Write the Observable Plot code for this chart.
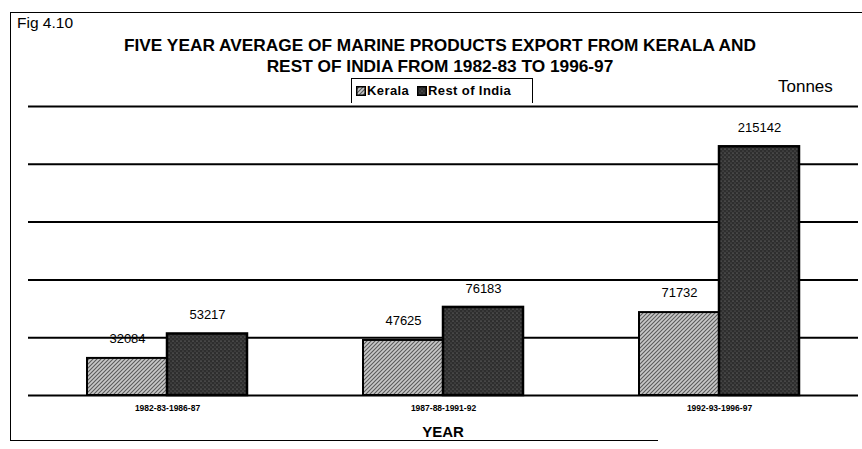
<!DOCTYPE html>
<html>
<head>
<meta charset="utf-8">
<script src="https://cdn.jsdelivr.net/npm/d3@7"></script>
<script src="https://cdn.jsdelivr.net/npm/@observablehq/plot@0.6"></script>
<style>
  body { margin: 0; background: #fff; font-family: "Liberation Sans", Arial, sans-serif; }
  #wrap { position: relative; width: 862px; height: 449px; overflow: hidden; background: #fff; }
  #chart { position: absolute; left: 0; top: 0; }
  .abs { position: absolute; white-space: nowrap; color: #000; }
  #frame { position: absolute; left: 10px; top: 12px; width: 852px; height: 428px;
           border-left: 1.5px solid #000; border-top: 1.5px solid #000; }
  #frameBottom { position: absolute; left: 10px; top: 440px; width: 648px; border-top: 1.5px solid #000; }
  .title { font-weight: bold; font-size: 17.3px; left: 0; width: 880px; text-align: center; letter-spacing: 0px; }
  #legend { position: absolute; left: 351px; top: 78px; width: 180px; height: 24px; border: 1.3px solid #000;
            border-bottom: none; background: #fff; font-weight: bold; font-size: 13px; letter-spacing: 0.4px; }
  .sw { position: absolute; top: 7px; }
</style>
</head>
<body>
<svg width="0" height="0" style="position:absolute">
  <defs>
    <pattern id="patKerala" patternUnits="userSpaceOnUse" width="4" height="4">
      <rect width="4" height="4" fill="#c8c8c8"/>
      <path d="M-1,1 l2,-2 M0,4 l4,-4 M3,5 l2,-2" stroke="#5a5a5a" stroke-width="1.1"/>
    </pattern>
    <pattern id="patRest" patternUnits="userSpaceOnUse" width="4" height="4">
      <rect width="4" height="4" fill="#2e2e2e"/>
      <circle cx="1" cy="1" r="0.6" fill="#8a8a8a"/>
      <circle cx="3" cy="3" r="0.6" fill="#6a6a6a"/>
    </pattern>
  </defs>
</svg>
<div id="wrap">
  <div id="chart"></div>
  <div id="frame"></div>
  <div id="frameBottom"></div>
  <div class="abs" style="left:17px; top:14px; font-size:15.5px;">Fig 4.10</div>
  <div class="abs title" style="top:35px;">FIVE YEAR AVERAGE OF MARINE PRODUCTS EXPORT FROM KERALA AND</div>
  <div class="abs title" style="top:56px;">REST OF INDIA FROM 1982-83 TO 1996-97</div>
  <div class="abs" style="left:778px; top:77px; font-size:17px;">Tonnes</div>
  <div id="legend"></div>
  <div class="abs" style="left:0; width:886px; text-align:center; top:423px; font-size:15px; font-weight:bold;">YEAR</div>
</div>
<script>
const categories = ["1982-83-1986-87", "1987-88-1991-92", "1992-93-1996-97"];
const seriesNames = ["Kerala", "Rest of India"];
const kerala = [32084, 47625, 71732];
const restOfIndia = [53217, 76183, 215142];
const gridValues = [0, 50000, 100000, 150000, 200000, 250000];
const patterns = ["url(#patKerala)", "url(#patRest)"];

const data = categories.flatMap((c, i) => [
  {period: c, series: seriesNames[0], value: kerala[i]},
  {period: c, series: seriesNames[1], value: restOfIndia[i]}
]);
const kData = data.filter(d => d.series === seriesNames[0]);
const rData = data.filter(d => d.series === seriesNames[1]);

const chart = Plot.plot({
  width: 862,
  height: 449,
  marginLeft: 28,
  marginRight: 4,
  marginTop: 106,
  marginBottom: 54,
  style: {fontFamily: "'Liberation Sans', Arial, sans-serif", fontSize: "8.5px", fontWeight: "bold", background: "transparent"},
  x: {domain: categories, paddingInner: 0.711, paddingOuter: 0.3555, tickSize: 0, tickPadding: 9, label: null},
  y: {domain: [0, 250000], axis: null},
  color: {domain: seriesNames, range: patterns},
  marks: [
    Plot.ruleY(gridValues, {stroke: "#000", strokeWidth: 2}),
    Plot.barY(kData, {x: "period", y: "value", fill: "series", dx: -40, stroke: "#000", strokeWidth: 2}),
    Plot.barY(rData, {x: "period", y: "value", fill: "series", dx: 40, stroke: "#000", strokeWidth: 2.5}),
    Plot.text(kData, {x: "period", y: "value", text: d => String(d.value), dx: -40, dy: -20, fontSize: 13, fontWeight: "normal", fill: "#000"}),
    Plot.text(rData, {x: "period", y: "value", text: d => String(d.value), dx: 40, dy: -19, fontSize: 13, fontWeight: "normal", fill: "#000"})
  ]
});
document.getElementById("chart").appendChild(chart);

// legend
const legend = document.getElementById("legend");
const items = [
  {name: seriesNames[0], swLeft: 4, textLeft: 15},
  {name: seriesNames[1], swLeft: 65, textLeft: 76}
];
items.forEach((it, i) => {
  const ns = "http://www.w3.org/2000/svg";
  const sw = document.createElementNS(ns, "svg");
  sw.setAttribute("class", "sw");
  sw.setAttribute("width", 10);
  sw.setAttribute("height", 10);
  sw.style.left = it.swLeft + "px";
  const r = document.createElementNS(ns, "rect");
  r.setAttribute("x", 0.75); r.setAttribute("y", 0.75);
  r.setAttribute("width", 8.5); r.setAttribute("height", 8.5);
  r.setAttribute("fill", patterns[i]);
  r.setAttribute("stroke", "#000"); r.setAttribute("stroke-width", 1.5);
  sw.appendChild(r);
  legend.appendChild(sw);
  const t = document.createElement("div");
  t.className = "abs";
  t.style.left = it.textLeft + "px";
  t.style.top = "4px";
  t.textContent = it.name;
  legend.appendChild(t);
});
</script>
</body>
</html>
